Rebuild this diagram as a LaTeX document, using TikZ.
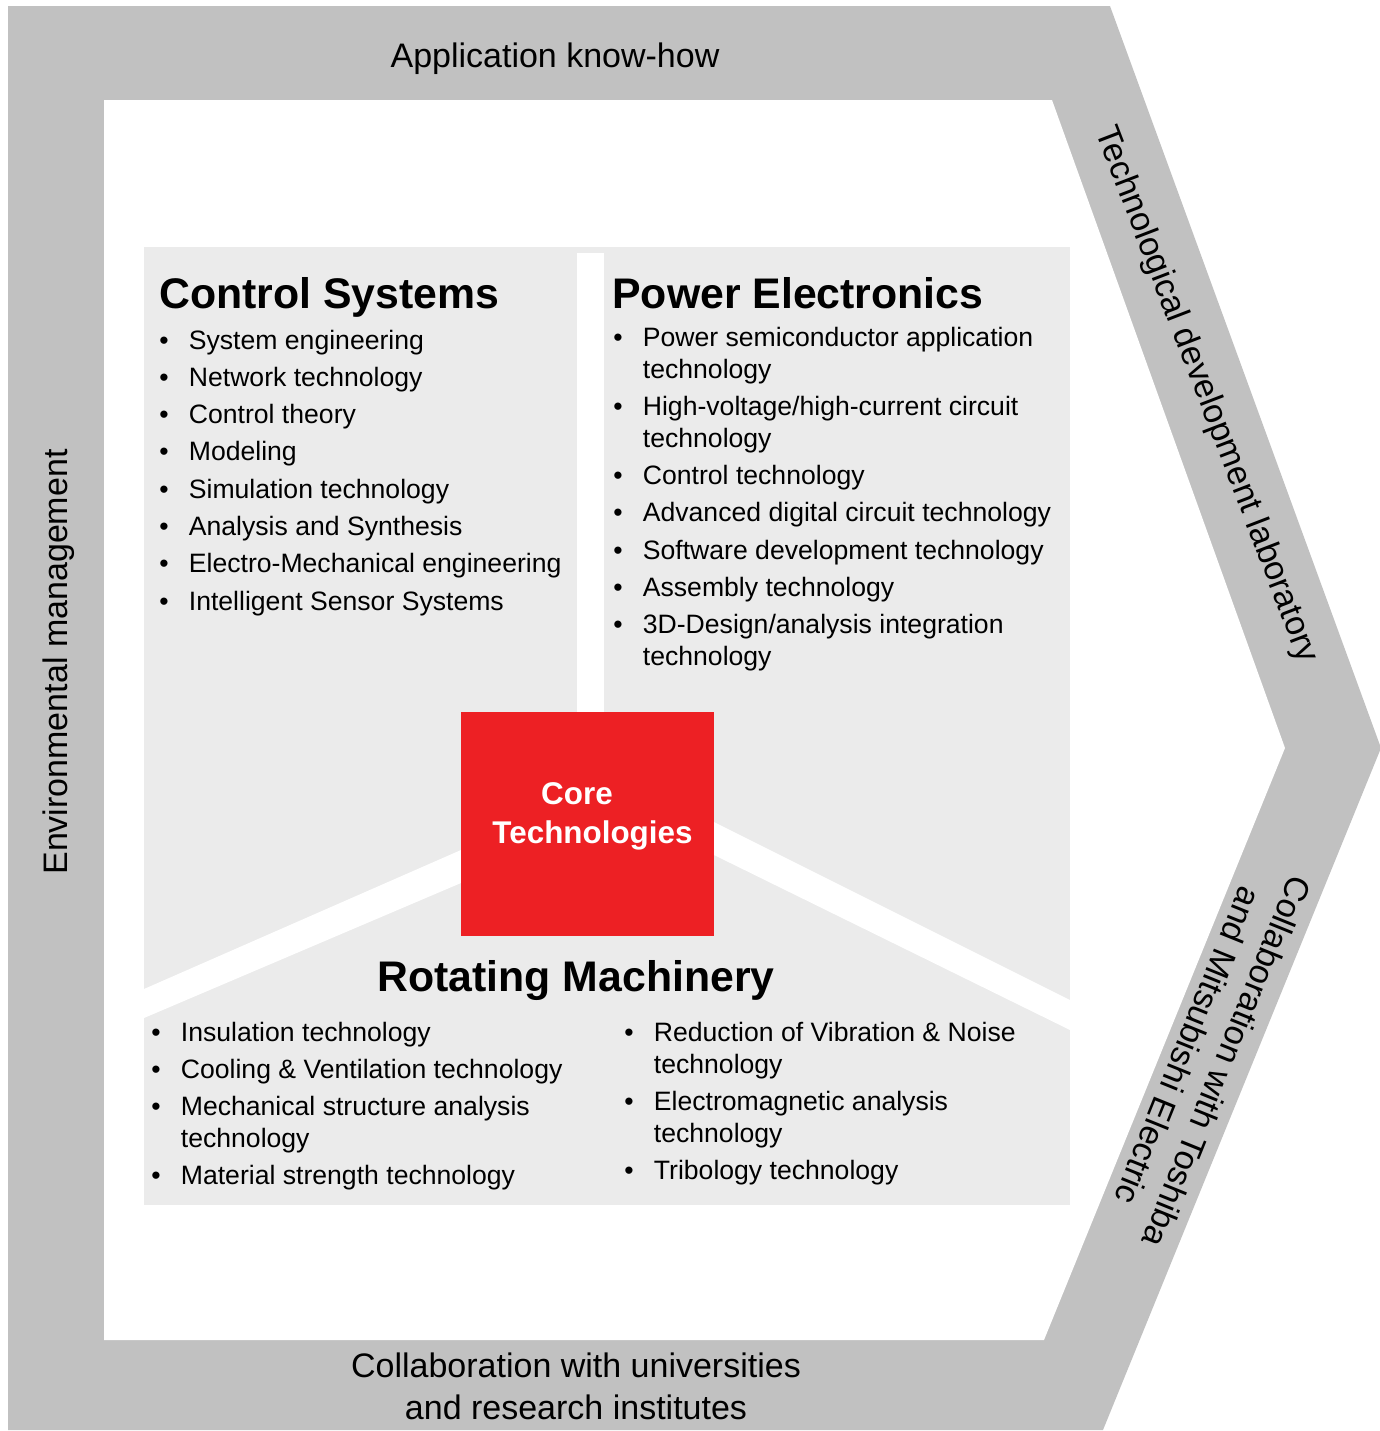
\documentclass[tikz,border=0pt]{standalone}
\usepackage{fontspec}
\setmainfont{Liberation Sans}
\usepackage{xcolor}

\definecolor{bandgray}{HTML}{C1C1C1}
\definecolor{panelgray}{HTML}{EBEBEB}
\definecolor{corered}{HTML}{ED2024}

\newcommand{\listfont}{\fontsize{13.3}{16}\selectfont}
\newcommand{\headfont}{\fontsize{21.4}{25}\selectfont\bfseries}
\newcommand{\bandfont}{\fontsize{17}{21}\selectfont}
\newcommand{\corefont}{\fontsize{15.7}{19.5}\selectfont\bfseries}
\newcommand{\nx}{\\[2.65pt]}
\newenvironment{techlist}{\listfont\begin{tabular}[t]{@{}p{14.75pt}@{}l@{}}}{\end{tabular}}

\begin{document}
\begin{tikzpicture}[x=0.5pt, y=-0.5pt,
  band/.style={font=\bandfont, inner sep=0, align=center},
  head/.style={font=\headfont, inner sep=0, anchor=base west},
  lst/.style={inner sep=0, anchor=base west}]
\useasboundingbox (0,0) rectangle (1380,1431);
% frame
\fill[bandgray] (8,6) -- (1110,6) -- (1381,748) -- (1103,1430) -- (8,1430) -- cycle;
\fill[white] (104,100) -- (1052,100) -- (1285,748) -- (1044,1340) -- (104,1340) -- cycle;
% panels
\fill[panelgray] (144,247) rectangle (1070,1205);
\fill[white] (577,253) rectangle (604,712);
\fill[white] (461,850) -- (144,989) -- (144,1018) -- (461,883) -- cycle;
\fill[white] (714,822) -- (1070,1000) -- (1070,1030) -- (714,855) -- cycle;
\node[fill=corered, inner sep=0, minimum width=126.5pt, minimum height=112pt] (core) at (587.5,824) {};
\node[font=\corefont, text=white, align=center, inner sep=0] (coretext) at (592.5,816) {Core\hspace*{15.5pt}\\Technologies};

% band labels
\node[band, anchor=base] (know) at (555,67) {Application know-how};
\node[band, rotate=90, anchor=base] (env) at (68,662) {Environmental management};
\node[band, rotate=-69] (lab) at (1206,395) {Technological development laboratory};
\node[band, rotate=-112] (toshiba) at (1208,1054) {Collaboration with Toshiba\\and Mitsubishi Electric};
\node[band] (univ) at (576,1386) {Collaboration with universities\\and research institutes};

% control systems
\node[head] (cs) at (159,308) {Control Systems};
\node[lst] (cslist) at (159,349) {\begin{techlist}
\textbullet & System engineering\nx
\textbullet & Network technology\nx
\textbullet & Control theory\nx
\textbullet & Modeling\nx
\textbullet & Simulation technology\nx
\textbullet & Analysis and Synthesis\nx
\textbullet & Electro-Mechanical engineering\nx
\textbullet & Intelligent Sensor Systems
\end{techlist}};

% power electronics
\node[head] (pe) at (612,308) {Power Electronics};
\node[lst] (pelist) at (613,346) {\begin{techlist}
\textbullet & Power semiconductor application\\
 & technology\nx
\textbullet & High-voltage/high-current circuit\\
 & technology\nx
\textbullet & Control technology\nx
\textbullet & Advanced digital circuit technology\nx
\textbullet & Software development technology\nx
\textbullet & Assembly technology\nx
\textbullet & 3D-Design/analysis integration\\
 & technology
\end{techlist}};

% rotating machinery
\node[head, anchor=base] (rm) at (576,991) {Rotating Machinery};
\node[lst] (rmleft) at (151,1041) {\begin{techlist}
\textbullet & Insulation technology\nx
\textbullet & Cooling \& Ventilation technology\nx
\textbullet & Mechanical structure analysis\\
 & technology\nx
\textbullet & Material strength technology
\end{techlist}};
\node[lst] (rmright) at (624,1041) {\begin{techlist}
\textbullet & Reduction of Vibration \& Noise\\
 & technology\nx
\textbullet & Electromagnetic analysis\\
 & technology\nx
\textbullet & Tribology technology
\end{techlist}};
\end{tikzpicture}
\end{document}
